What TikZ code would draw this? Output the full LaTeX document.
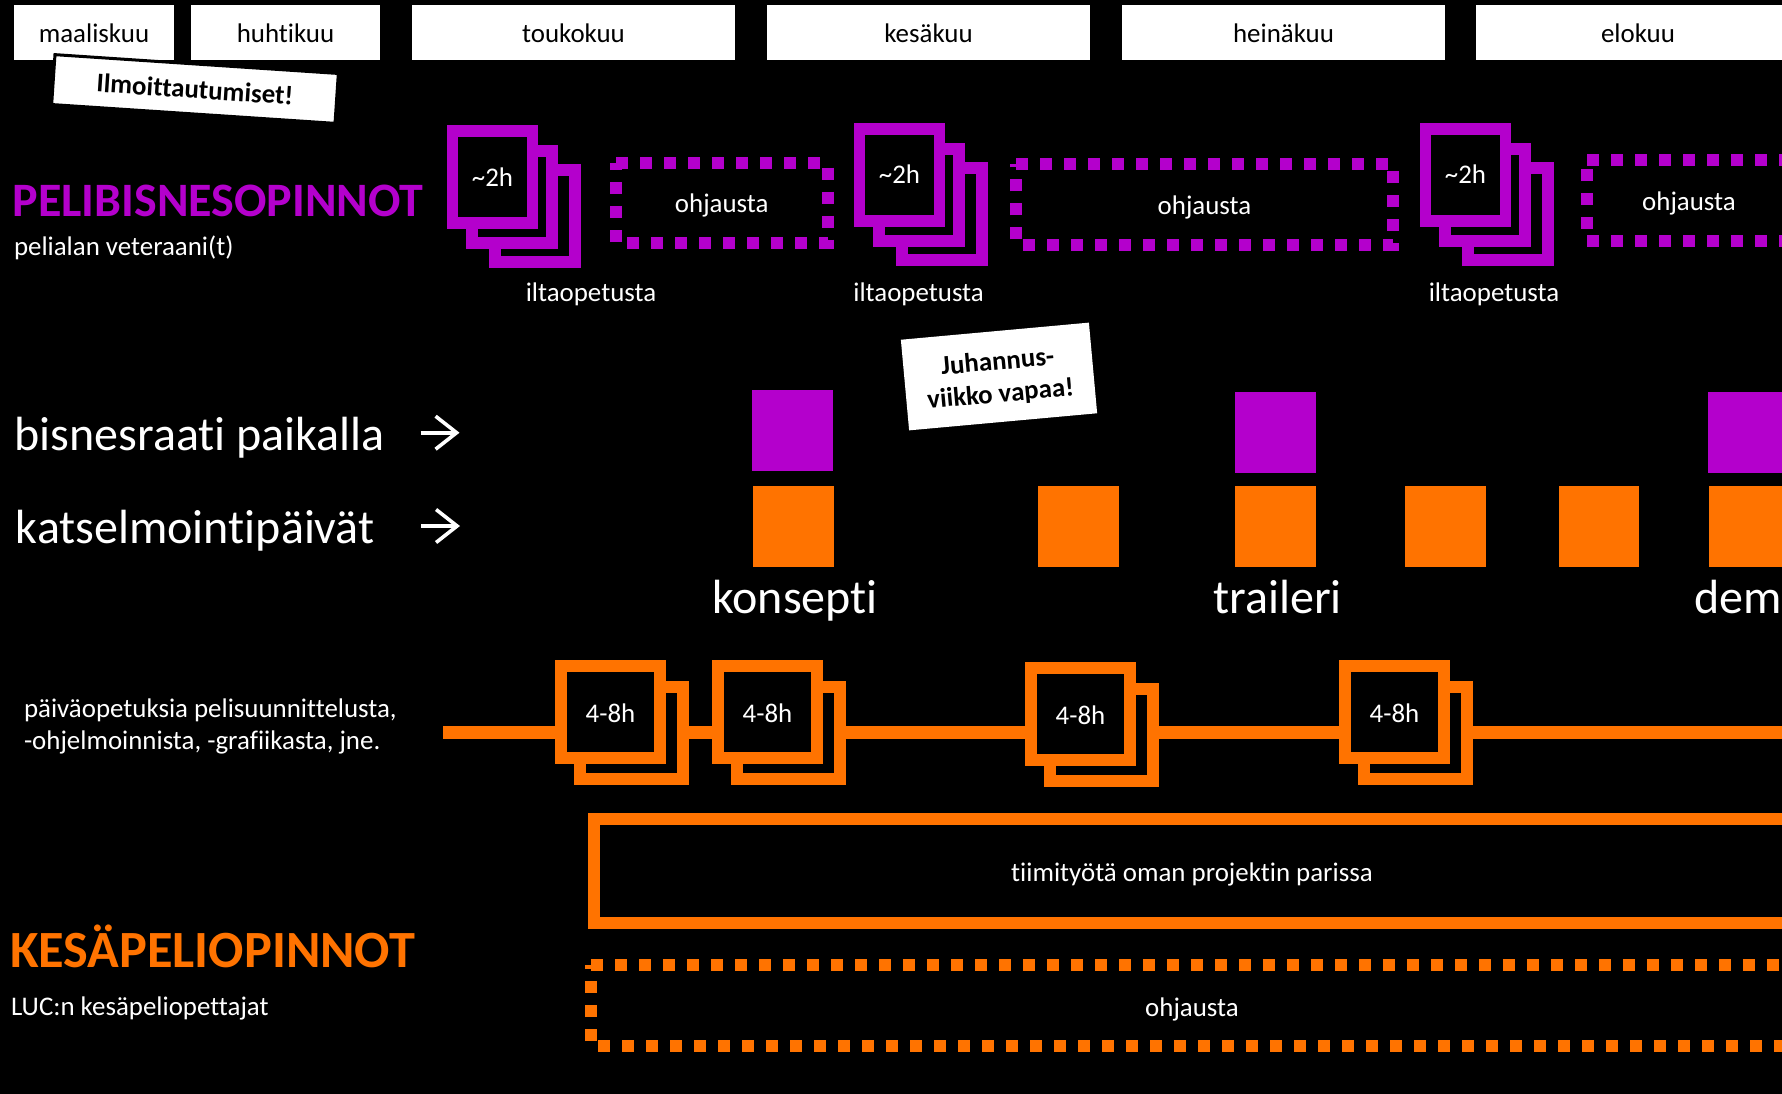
\documentclass[tikz,border=0pt]{standalone}
\usepackage{fontspec}
\setmainfont{Carlito}[Ligatures=CommonOff]
\usetikzlibrary{arrows.meta}
\definecolor{pelipurple}{HTML}{B400CC}
\definecolor{kesaorange}{HTML}{FF7300}
\newcommand{\txtS}{\fontsize{26.9}{32.3}\selectfont}
\newcommand{\txtL}{\fontsize{48}{56}\selectfont}
\tikzset{
  plain/.style={inner sep=0pt,outer sep=0pt},
  smalltext/.style={plain,text=white,font=\txtS,anchor=base},
  smallleft/.style={plain,text=white,font=\txtS,anchor=base west},
  bigtext/.style={plain,text=white,font=\txtL,anchor=base},
  bigleft/.style={plain,text=white,font=\txtL,anchor=base west},
  monthbox/.style={plain,fill=white,text=black,font=\txtS,minimum height=55pt,text height=19pt,text depth=0pt},
  note/.style={plain,fill=white,text=black,font=\txtS\bfseries,align=center},
  psheet/.style={plain,draw=pelipurple,line width=11.7pt,fill=black,minimum width=80pt,minimum height=92pt},
  osheet/.style={plain,draw=kesaorange,line width=12pt,fill=black,minimum height=92pt},
  sheetlabel/.style={text=white,font=\txtS,text height=18.5pt,text depth=0pt},
  osheetlabel/.style={text=white,font=\txtS,text height=19.5pt,text depth=0pt},
  psquare/.style={plain,fill=pelipurple,minimum width=81pt,minimum height=81pt},
  osquare/.style={plain,fill=kesaorange,minimum width=81pt,minimum height=81pt},
  dotlabel/.style={plain,text=white,font=\txtS,text height=19.5pt,text depth=0pt},
  pdots/.style={draw=pelipurple,line width=12pt,dash pattern=on 12pt off 12pt},
  odots/.style={draw=kesaorange,line width=12pt,dash pattern=on 12pt off 12pt},
  rowarrow/.style={draw=white,line width=3.6pt,-{Straight Barb[length=21pt,width=33pt,line width=3.6pt]}},
}
\newcommand{\pstack}[3]{%
  \begin{scope}[shift={(#2,#3)}]
    \node[psheet] (#1c) at (535,216) {};
    \node[psheet] (#1b) at (512,197) {};
    \node[psheet,sheetlabel] (#1a) at (492.5,177) {\textasciitilde 2h};
  \end{scope}}
\newcommand{\ostack}[3]{%
  \begin{scope}[shift={(#2,#3)}]
    \node[osheet,minimum width=103pt] (#1b) at (631.5,732.7) {};
    \node[osheet,minimum width=99pt,osheetlabel] (#1a) at (610.5,712.25) {4-8h};
  \end{scope}}
\begin{document}
\begin{tikzpicture}[x=1pt,y=-1pt]
\useasboundingbox (0,0) rectangle (1782,1093);
\fill[black] (-5,-5) rectangle (1790,1100);
\clip (0,0) rectangle (1782,1093);

% months
\node[monthbox,minimum width=160pt] (m1) at (94,32.5) {maaliskuu};
\node[monthbox,minimum width=189pt] (m2) at (285.5,32.5) {huhtikuu};
\node[monthbox,minimum width=323pt] (m3) at (573.5,32.5) {toukokuu};
\node[monthbox,minimum width=323pt] (m4) at (928.5,32.5) {kesäkuu};
\node[monthbox,minimum width=323pt] (m5) at (1283.5,32.5) {heinäkuu};
\node[monthbox,minimum width=324pt] (m6) at (1638,32.5) {elokuu};

\node[note,draw=black,line width=3pt,rotate=-3.8,minimum width=284pt,minimum height=50pt] (ilm) at (195,89) {Ilmoittautumiset!};

% PELIBISNESOPINNOT row
\node[plain,text=pelipurple,font=\fontsize{48}{56}\selectfont\bfseries,anchor=base west] (pelititle) at (12.5,216) {PELIBISNESOPINNOT};
\node[smallleft] (pelisub) at (14,255.3) {pelialan veteraani(t)};

\pstack{pa}{0}{0}
\pstack{pb}{407}{-2.3}
\pstack{pc}{973}{-2.3}
\node[smalltext] (ilta1) at (591,301) {iltaopetusta};
\node[smalltext] (ilta2) at (918.6,301) {iltaopetusta};
\node[smalltext] (ilta3) at (1494,301) {iltaopetusta};

\node[dotlabel,minimum width=211.5pt,minimum height=80pt] (d1) at (721.75,203) {ohjausta};
\draw[pdots] (d1.north west) -- (d1.north east) -- (d1.south east) -- (d1.south west) -- cycle;
\node[dotlabel,minimum width=377pt,minimum height=80.7pt] (d2) at (1204.5,204.35) {ohjausta};
\draw[pdots] (d2.north west) -- (d2.north east) -- (d2.south east) -- (d2.south west) -- cycle;
\node[dotlabel,minimum width=204pt,minimum height=81pt] (d3) at (1689,200.5) {ohjausta};
\draw[pdots] (d3.north west) -- (1800,160);
\draw[pdots] (d3.south west) -- (1800,241);
\draw[pdots] (1587,229) -- (1587,160);

% note
\node[note,rotate=5.2,minimum width=188.8pt,minimum height=91pt,text depth=0pt] (juh) at (999,376.5) {Juhannus-\\viikko vapaa!};

% review rows
\node[bigleft] (bisnes) at (14.5,450) {bisnesraati paikalla};
\node[bigleft] (katsel) at (16,543.5) {katselmointipäivät};
\coordinate (ar1s) at (420.7,432.7);
\coordinate (ar1e) at (459.5,432.7);
\coordinate (ar2s) at (421.3,526);
\coordinate (ar2e) at (460,526);
\draw[rowarrow] (ar1s) -- (ar1e);
\draw[rowarrow] (ar2s) -- (ar2e);

\node[psquare] (p1) at (792.5,430.5) {};
\node[psquare] (p2) at (1275.5,432.5) {};
\node[psquare] (p3) at (1748.5,432.5) {};
\node[osquare] (o1) at (793.5,526.5) {};
\node[osquare] (o2) at (1078.5,526.5) {};
\node[osquare] (o3) at (1275.5,526.5) {};
\node[osquare] (o4) at (1445.5,526.5) {};
\node[osquare,minimum width=80pt] (o5) at (1599,526.5) {};
\node[osquare] (o6) at (1749.5,526.5) {};

\node[bigtext] (konsepti) at (795,613.2) {konsepti};
\node[bigtext] (traileri) at (1277.7,613.2) {traileri};
\node[bigleft] (demo) at (1694,613.2) {dem};

% day teaching line
\node[plain,text=white,font=\txtS,align=left,anchor=base west] (paiva) at (24,749.5) {päiväopetuksia pelisuunnittelusta,\\-ohjelmoinnista, -grafiikasta, jne.};
\coordinate (lineL) at (443,732.5);
\coordinate (lineR) at (1800,732.5);
\draw[draw=kesaorange,line width=12.3pt] (lineL) -- (lineR);
\ostack{sa}{0}{0}
\ostack{sb}{157}{0}
\ostack{sc}{470}{2}
\ostack{sd}{784}{0}

% team work
\node[plain,draw=kesaorange,line width=12pt,minimum width=1197pt,minimum height=104.2pt,text=white,font=\txtS,text height=21.5pt,text depth=0pt] (tiimi) at (1192,870.6) {tiimityötä oman projektin parissa};

\node[dotlabel,text height=21.5pt,minimum width=1202pt,minimum height=80.7pt] (d4) at (1192,1005.65) {ohjausta};
\draw[odots] (d4.north west) -- (1800,965.3);
\draw[odots] (598,1046) -- (1800,1046);
\draw[odots] (591,1041) -- (591,965.3);

\node[plain,text=kesaorange,font=\fontsize{52.3}{60}\selectfont\bfseries,anchor=base west] (kesatitle) at (10,967) {KESÄPELIOPINNOT};
\node[smallleft] (kesasub) at (11,1015) {LUC:n kesäpeliopettajat};
\end{tikzpicture}
\end{document}
